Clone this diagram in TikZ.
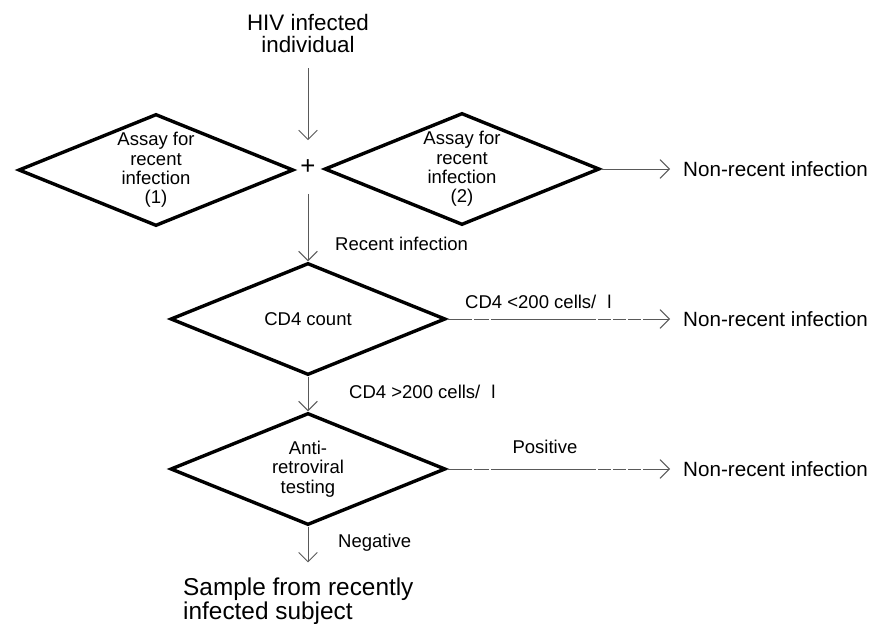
\documentclass[tikz,border=0pt]{standalone}
\usepackage{fontspec}
\setmainfont{Liberation Sans}
\usetikzlibrary{shapes.geometric,arrows.meta}

\definecolor{linegray}{gray}{0.35}
\newcommand{\boxfont}{\fontsize{15.8}{16.6}\selectfont}
\newcommand{\outfont}{\fontsize{17.6}{19}\selectfont}
\newcommand{\topfont}{\fontsize{19.1}{19.6}\selectfont}
\newcommand{\samplefont}{\fontsize{20.8}{20.5}\selectfont}
\newcommand{\plusfont}{\fontsize{22}{22}\selectfont}

\tikzset{
  decision/.style={diamond, draw, line width=2.9pt, aspect=2.45,
    minimum width=8.25cm, minimum height=3.36cm, inner sep=0pt,
    align=center, font=\boxfont},
  arr/.style={draw=linegray, line width=0.8pt,
    -{Straight Barb[length=0.28cm,width=0.56cm]}},
  lbl/.style={inner sep=0pt, font=\boxfont},
  outcome/.style={inner xsep=0.39cm, inner ysep=0pt, anchor=west, font=\outfont},
  gapped/.style={dash pattern=on 21.3pt off 1.7pt on 12.8pt off 1.7pt
    on 89.6pt off 1.7pt on 11.1pt off 1.7pt on 11.1pt off 1.7pt
    on 11.1pt off 1.7pt on 40pt}
}

\begin{document}
\begin{tikzpicture}[x=0.03cm, y=-0.03cm]
	\useasboundingbox (0,0) rectangle (869,624);

	% Start and the two assays
	\node[inner sep=0pt, align=center, font=\topfont] (hiv) at (308,33.5) {HIV infected\\individual};
	\node[decision] (assay1) at (156,170) {Assay for\\recent\\infection\\(1)};
	\node[inner sep=0pt, minimum height=1.6cm, font=\plusfont] (plus) at (308,167) {+};
	\node[decision] (assay2) at (462,169) {Assay for\\recent\\infection\\(2)};
	\node[outcome] (nr1) at (670,169) {Non-recent infection};

	% CD4 step
	\node[decision] (cd4) at (308,319) {CD4 count};
	\node[outcome] (nr2) at (670,319) {Non-recent infection};

	% Antiretroviral step
	\node[decision] (arv) at (308,469) {Anti-\\retroviral\\testing};
	\node[outcome] (nr3) at (670,469) {Non-recent infection};
	\node[inner sep=0pt, align=left, anchor=west, font=\samplefont] (sample) at (183,601) {Sample from recently\\infected subject};

	% Labels on the arrows
	\node[lbl, anchor=west] (rlab) at (335,244) {Recent infection};
	\node[lbl, anchor=west] (lowlab) at (465,302) {CD4 <200 cells/\hspace{0.6em}l};
	\node[lbl, anchor=west] (highlab) at (349,392) {CD4 >200 cells/\hspace{0.6em}l};
	\node[lbl] (poslab) at (545,447) {Positive};
	\node[lbl, anchor=west] (neglab) at (338,543) {Negative};

	% Arrows
	\draw[arr, shorten <=0.45cm] (hiv) -- (plus);
	\draw[arr] (plus) -- (cd4);
	\draw[arr] (assay2.east) -- (nr1.west);
	\draw[arr, gapped] (cd4.east) -- (nr2.west);
	\draw[arr] (cd4) -- (arv);
	\draw[arr, gapped] (arv.east) -- (nr3.west);
	\draw[arr, shorten >=0.45cm] (arv) -- (arv.south |- sample.north);
\end{tikzpicture}
\end{document}
